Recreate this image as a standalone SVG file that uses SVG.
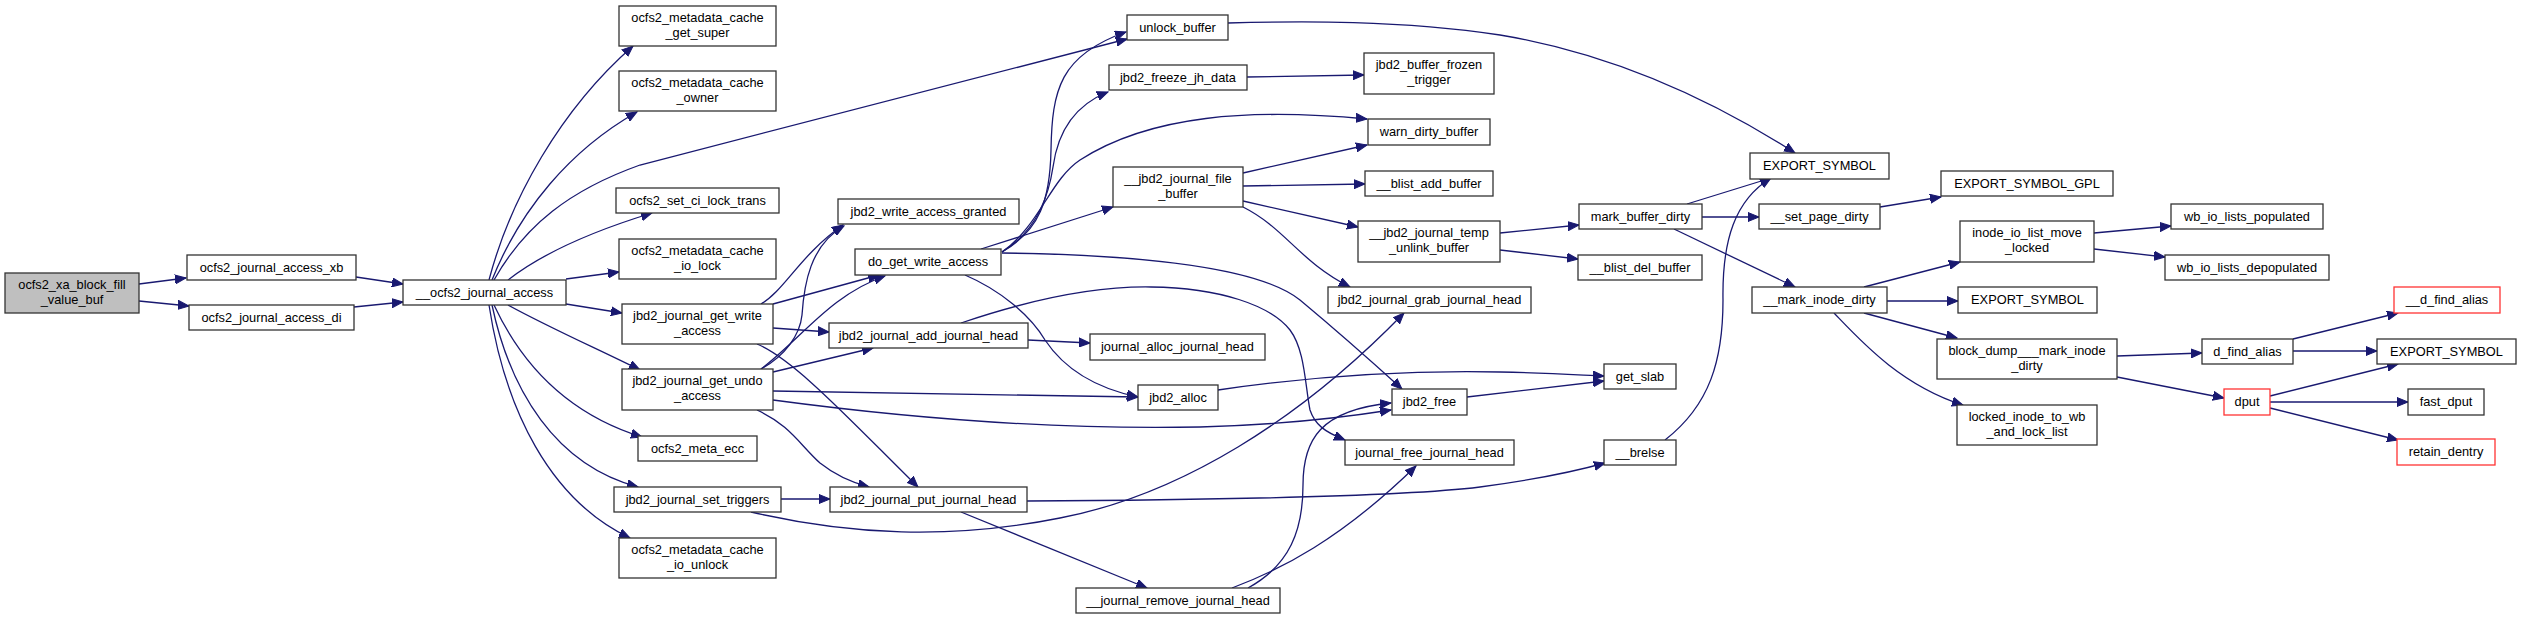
<svg xmlns="http://www.w3.org/2000/svg" width="2521" height="619" viewBox="0 0 2521 619">
<style>
.n rect{fill:#fff;stroke:#333;stroke-width:1.3}
.n.r rect{stroke:#f33}
.n.g rect{fill:#bfbfbf}
.n text{font-family:"Liberation Sans",Arial,Helvetica,sans-serif;font-size:12.8px;fill:#000;text-anchor:middle}
.e path{fill:none;stroke:#191970;stroke-width:1.3;marker-end:url(#a)}
</style>
<defs>
<marker id="a" markerUnits="userSpaceOnUse" markerWidth="12" markerHeight="10" refX="11" refY="5" orient="auto">
<path d="M0,0.5 L11,5 L0,9.5 z" fill="#191970" stroke="#191970" stroke-width="1"/>
</marker>
</defs>
<rect width="2521" height="619" fill="#fff"/>
<g id="edges" class="e">
<path d="M139,284 L186,278"/>
<path d="M139,301 L189,306"/>
<path d="M356,277 L403,284"/>
<path d="M354,307 L403,302"/>
<path d="M489,280 C510,200 560,110 633,46"/>
<path d="M492,280 C520,210 570,150 637,112"/>
<path d="M494,280 C525,225 570,190 640,165 L1127,39"/>
<path d="M508,280 C540,255 590,232 652,213"/>
<path d="M566,279 L619,272"/>
<path d="M566,304 L622,313"/>
<path d="M508,305 C550,328 600,350 640,370"/>
<path d="M494,305 C515,350 555,410 642,437"/>
<path d="M492,305 C510,390 555,465 638,487"/>
<path d="M489,305 C505,410 550,500 630,538"/>
<path d="M761,304 C785,290 800,255 843,225"/>
<path d="M773,304 L879,275"/>
<path d="M773,328 L829,332"/>
<path d="M757,344 C795,360 850,420 918,487"/>
<path d="M761,369 C785,356 800,335 802,315 C804,285 810,245 844,226"/>
<path d="M761,369 C800,340 830,295 885,276"/>
<path d="M773,372 L873,348"/>
<path d="M773,391 L1138,397"/>
<path d="M773,400 C900,417 1050,430 1200,427 C1280,425 1340,418 1391,410"/>
<path d="M757,410 C790,425 800,445 820,463 C835,475 850,482 869,487"/>
<path d="M781,499 L830,499"/>
<path d="M751,512 C850,535 950,540 1060,518 C1180,495 1300,420 1404,313"/>
<path d="M1027,501 C1200,500 1400,497 1480,487 C1540,479 1580,470 1605,463"/>
<path d="M961,512 L1147,588"/>
<path d="M1248,588 C1290,565 1303,530 1303,485 C1303,440 1320,410 1391,403"/>
<path d="M1232,588 C1280,570 1340,540 1416,466"/>
<path d="M1002,252 C1040,230 1050,200 1051,150 C1052,90 1060,55 1126,32"/>
<path d="M1002,252 C1035,232 1048,200 1053,167 C1058,130 1075,105 1108,92"/>
<path d="M1002,252 C1040,225 1050,180 1080,160 C1150,115 1250,108 1367,119"/>
<path d="M981,249 L1113,207"/>
<path d="M965,275 C1000,290 1030,315 1045,340 C1065,370 1095,388 1138,397"/>
<path d="M1002,253 C1150,255 1260,268 1300,300 C1330,325 1370,360 1402,389"/>
<path d="M1028,340 L1090,343"/>
<path d="M961,323 C1020,303 1090,286 1151,287 C1220,288 1270,305 1290,330 C1305,350 1305,385 1310,410 C1315,425 1325,432 1345,440"/>
<path d="M1247,77 L1364,75"/>
<path d="M1228,23 C1300,21 1400,20 1500,35 C1620,55 1720,105 1795,153"/>
<path d="M1243,173 L1367,145"/>
<path d="M1243,186 L1365,184"/>
<path d="M1243,201 L1358,227"/>
<path d="M1243,207 C1285,228 1300,262 1350,287"/>
<path d="M1500,233 L1579,225"/>
<path d="M1500,250 L1578,259"/>
<path d="M1687,204 L1771,178"/>
<path d="M1702,217 L1759,217"/>
<path d="M1674,229 L1795,287"/>
<path d="M1665,440 C1710,405 1723,360 1723,300 C1722,240 1735,200 1771,178"/>
<path d="M1218,390 C1300,378 1400,370 1500,372 C1550,373 1580,375 1604,376"/>
<path d="M1467,397 L1604,381"/>
<path d="M1880,207 L1941,197"/>
<path d="M1864,287 L1960,262"/>
<path d="M1887,301 L1958,301"/>
<path d="M1864,313 L1957,338"/>
<path d="M1834,313 C1860,340 1900,385 1963,405"/>
<path d="M2094,233 L2171,226"/>
<path d="M2094,249 L2165,257"/>
<path d="M2117,356 L2202,353"/>
<path d="M2117,377 L2224,398"/>
<path d="M2293,339 L2398,313"/>
<path d="M2293,351 L2377,351"/>
<path d="M2270,396 L2398,364"/>
<path d="M2270,402 L2408,402"/>
<path d="M2270,408 L2398,440"/>
</g>
<g id="n0" class="n g"><rect x="5" y="273" width="134" height="40"/><text x="72" y="289">ocfs2_xa_block_fill</text><text x="72" y="304">_value_buf</text></g>
<g id="n1" class="n"><rect x="187" y="255" width="169" height="25"/><text x="271.5" y="272">ocfs2_journal_access_xb</text></g>
<g id="n2" class="n"><rect x="189" y="305" width="165" height="25"/><text x="271.5" y="322">ocfs2_journal_access_di</text></g>
<g id="n3" class="n"><rect x="403" y="280" width="163" height="25"/><text x="484.5" y="297">__ocfs2_journal_access</text></g>
<g id="n4" class="n"><rect x="619" y="6" width="157" height="40"/><text x="697.5" y="22">ocfs2_metadata_cache</text><text x="697.5" y="37">_get_super</text></g>
<g id="n5" class="n"><rect x="619" y="71" width="157" height="40"/><text x="697.5" y="87">ocfs2_metadata_cache</text><text x="697.5" y="102">_owner</text></g>
<g id="n6" class="n"><rect x="616" y="188" width="163" height="25"/><text x="697.5" y="205">ocfs2_set_ci_lock_trans</text></g>
<g id="n7" class="n"><rect x="619" y="239" width="157" height="40"/><text x="697.5" y="255">ocfs2_metadata_cache</text><text x="697.5" y="270">_io_lock</text></g>
<g id="n8" class="n"><rect x="622" y="304" width="151" height="40"/><text x="697.5" y="320">jbd2_journal_get_write</text><text x="697.5" y="335">_access</text></g>
<g id="n9" class="n"><rect x="622" y="369" width="151" height="41"/><text x="697.5" y="385">jbd2_journal_get_undo</text><text x="697.5" y="400">_access</text></g>
<g id="n10" class="n"><rect x="638" y="436" width="119" height="25"/><text x="697.5" y="453">ocfs2_meta_ecc</text></g>
<g id="n11" class="n"><rect x="614" y="487" width="167" height="25"/><text x="697.5" y="504">jbd2_journal_set_triggers</text></g>
<g id="n12" class="n"><rect x="619" y="538" width="157" height="40"/><text x="697.5" y="554">ocfs2_metadata_cache</text><text x="697.5" y="569">_io_unlock</text></g>
<g id="n13" class="n"><rect x="838" y="199" width="181" height="25"/><text x="928.5" y="216">jbd2_write_access_granted</text></g>
<g id="n14" class="n"><rect x="855" y="249" width="146" height="26"/><text x="928" y="266">do_get_write_access</text></g>
<g id="n15" class="n"><rect x="829" y="323" width="199" height="25"/><text x="928.5" y="340">jbd2_journal_add_journal_head</text></g>
<g id="n16" class="n"><rect x="830" y="487" width="197" height="25"/><text x="928.5" y="504">jbd2_journal_put_journal_head</text></g>
<g id="n17" class="n"><rect x="1127" y="15" width="101" height="25"/><text x="1177.5" y="32">unlock_buffer</text></g>
<g id="n18" class="n"><rect x="1109" y="65" width="138" height="25"/><text x="1178" y="82">jbd2_freeze_jh_data</text></g>
<g id="n19" class="n"><rect x="1113" y="167" width="130" height="40"/><text x="1178" y="183">__jbd2_journal_file</text><text x="1178" y="198">_buffer</text></g>
<g id="n20" class="n"><rect x="1090" y="334" width="175" height="26"/><text x="1177.5" y="351">journal_alloc_journal_head</text></g>
<g id="n21" class="n"><rect x="1138" y="385" width="80" height="25"/><text x="1178" y="402">jbd2_alloc</text></g>
<g id="n22" class="n"><rect x="1076" y="588" width="204" height="25"/><text x="1178" y="605">__journal_remove_journal_head</text></g>
<g id="n23" class="n"><rect x="1364" y="53" width="130" height="41"/><text x="1429" y="69">jbd2_buffer_frozen</text><text x="1429" y="84">_trigger</text></g>
<g id="n24" class="n"><rect x="1368" y="119" width="122" height="26"/><text x="1429" y="136">warn_dirty_buffer</text></g>
<g id="n25" class="n"><rect x="1365" y="171" width="128" height="25"/><text x="1429" y="188">__blist_add_buffer</text></g>
<g id="n26" class="n"><rect x="1358" y="221" width="142" height="41"/><text x="1429" y="237">__jbd2_journal_temp</text><text x="1429" y="252">_unlink_buffer</text></g>
<g id="n27" class="n"><rect x="1328" y="287" width="203" height="26"/><text x="1429.5" y="304">jbd2_journal_grab_journal_head</text></g>
<g id="n28" class="n"><rect x="1392" y="389" width="75" height="26"/><text x="1429.5" y="406">jbd2_free</text></g>
<g id="n29" class="n"><rect x="1345" y="440" width="169" height="25"/><text x="1429.5" y="457">journal_free_journal_head</text></g>
<g id="n30" class="n"><rect x="1579" y="204" width="123" height="25"/><text x="1640.5" y="221">mark_buffer_dirty</text></g>
<g id="n31" class="n"><rect x="1578" y="255" width="124" height="25"/><text x="1640" y="272">__blist_del_buffer</text></g>
<g id="n32" class="n"><rect x="1604" y="364" width="72" height="25"/><text x="1640" y="381">get_slab</text></g>
<g id="n33" class="n"><rect x="1604" y="440" width="72" height="25"/><text x="1640" y="457">__brelse</text></g>
<g id="n34" class="n"><rect x="1750" y="153" width="139" height="26"/><text x="1819.5" y="170">EXPORT_SYMBOL</text></g>
<g id="n35" class="n"><rect x="1759" y="204" width="121" height="25"/><text x="1819.5" y="221">__set_page_dirty</text></g>
<g id="n36" class="n"><rect x="1752" y="287" width="135" height="26"/><text x="1819.5" y="304">__mark_inode_dirty</text></g>
<g id="n37" class="n"><rect x="1941" y="171" width="172" height="25"/><text x="2027" y="188">EXPORT_SYMBOL_GPL</text></g>
<g id="n38" class="n"><rect x="1960" y="221" width="134" height="41"/><text x="2027" y="237">inode_io_list_move</text><text x="2027" y="252">_locked</text></g>
<g id="n39" class="n"><rect x="1958" y="287" width="139" height="26"/><text x="2027.5" y="304">EXPORT_SYMBOL</text></g>
<g id="n40" class="n"><rect x="1937" y="339" width="180" height="40"/><text x="2027" y="355">block_dump___mark_inode</text><text x="2027" y="370">_dirty</text></g>
<g id="n41" class="n"><rect x="1957" y="405" width="140" height="40"/><text x="2027" y="421">locked_inode_to_wb</text><text x="2027" y="436">_and_lock_list</text></g>
<g id="n42" class="n"><rect x="2171" y="204" width="152" height="25"/><text x="2247" y="221">wb_io_lists_populated</text></g>
<g id="n43" class="n"><rect x="2165" y="255" width="164" height="25"/><text x="2247" y="272">wb_io_lists_depopulated</text></g>
<g id="n44" class="n"><rect x="2202" y="339" width="91" height="25"/><text x="2247.5" y="356">d_find_alias</text></g>
<g id="n45" class="n r"><rect x="2224" y="389" width="46" height="26"/><text x="2247" y="406">dput</text></g>
<g id="n46" class="n r"><rect x="2394" y="287" width="106" height="26"/><text x="2447" y="304">__d_find_alias</text></g>
<g id="n47" class="n"><rect x="2377" y="339" width="139" height="25"/><text x="2446.5" y="356">EXPORT_SYMBOL</text></g>
<g id="n48" class="n"><rect x="2408" y="389" width="76" height="26"/><text x="2446" y="406">fast_dput</text></g>
<g id="n49" class="n r"><rect x="2397" y="439" width="98" height="26"/><text x="2446" y="456">retain_dentry</text></g>
</svg>
